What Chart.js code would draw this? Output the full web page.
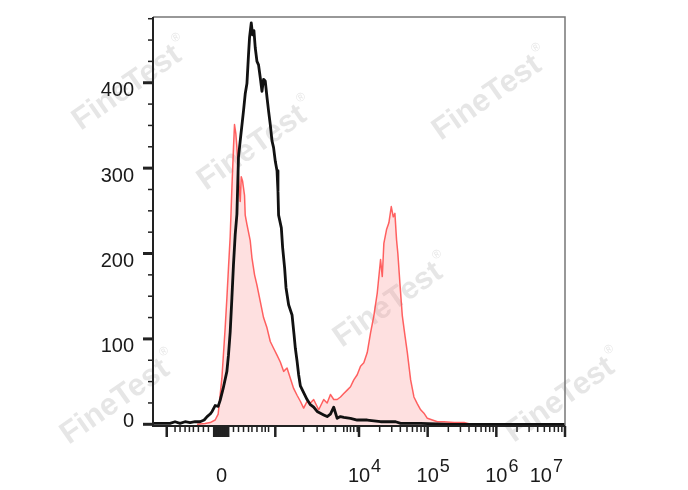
<!DOCTYPE html>
<html lang="en">
<head>
    <meta charset="UTF-8">
    <title>FineTest histogram</title>
    <script src="https://cdn.jsdelivr.net/npm/chart.js"></script>
    <style>
        body { margin: 0; background: #fff; }
        canvas { display: block; }
    </style>
</head>
<body>
    <canvas id="hist" width="688" height="490"></canvas>

    <script>
        // x values are in axis units: 2 = "0", 4 = 10^4, 5 = 10^5 ...
        const blackX = [1.000,1.102,1.248,1.321,1.394,1.467,1.540,1.613,1.686,1.745,1.788,1.832,1.861,1.905,1.949,1.978,2.022,2.076,2.099,2.124,2.149,2.172,2.197,2.222,2.245,2.270,2.318,2.343,2.368,2.391,2.406,2.431,2.450,2.470,2.489,2.514,2.537,2.562,2.587,2.610,2.635,2.660,2.683,2.708,2.733,2.756,2.781,2.806,2.820,2.829,2.869,2.888,2.917,2.937,2.975,3.025,3.054,3.073,3.098,3.121,3.146,3.194,3.244,3.292,3.340,3.390,3.438,3.486,3.536,3.584,3.632,3.682,3.730,3.778,3.876,3.974,4.120,4.314,4.533,4.606,4.898,5.336,7.000];
        const blackY = [1,1,1,3,1,3,2,3,3,5,9,12,15,22,21,28,42,62,81,108,148,187,222,246,313,332,367,387,399,433,453,470,456,461,441,425,421,406,390,404,402,383,367,351,332,324,308,297,273,245,230,207,183,160,140,128,105,89,74,58,45,37,29,23,20,15,13,11,9,12,20,7,9,8,7,5,5,3,3,1,1,0,0];

        const redX = [1.642,1.759,1.832,1.905,1.949,2.003,2.051,2.076,2.099,2.124,2.149,2.172,2.187,2.207,2.222,2.245,2.270,2.285,2.304,2.333,2.343,2.368,2.416,2.441,2.479,2.514,2.562,2.610,2.660,2.708,2.756,2.806,2.854,2.902,2.952,3.000,3.048,3.098,3.146,3.194,3.244,3.292,3.340,3.413,3.486,3.536,3.584,3.632,3.682,3.730,3.778,3.828,3.876,3.924,3.974,4.022,4.070,4.120,4.168,4.216,4.266,4.314,4.339,4.362,4.401,4.435,4.470,4.499,4.523,4.547,4.566,4.596,4.631,4.664,4.704,4.752,4.800,4.850,4.898,4.946,4.996,5.069,5.142,5.238,5.384,5.530,5.628,7.000];
        const redY = [0,1,2,5,12,54,113,148,183,220,277,324,351,340,324,292,261,290,285,268,245,234,215,195,175,163,144,125,113,97,89,81,73,62,66,54,42,34,27,19,27,25,29,17,29,25,35,29,29,32,36,40,44,52,58,68,72,84,107,127,154,193,173,212,228,236,255,243,247,216,200,165,127,107,84,52,32,24,17,13,7,5,3,3,2,2,0,0];

        // axis labels
        const yLabels = [0, 100, 200, 300, 400];
        const xLabelVals = [2, 4, 5, 6, 7];
        const xLabelBase = ['0', '10', '10', '10', '10'];
        const xLabelExp = ['', '4', '5', '6', '7'];

        // tick marks on the bottom axis
        const xLongTicks = [1.2, 1.891, 1.92, 1.949, 1.978, 2.007, 2.036, 2.066, 2.095, 2.781, 4, 5, 6, 7];
        const xShortTicks = [1.321,1.394,1.467,1.530,1.588,1.661,1.734,1.807,2.172,2.245,2.318,2.391,2.441,2.514,2.587,2.635,2.683,3.194,3.390,3.486,3.657,3.778,3.828,3.876,3.924,3.974];
        for (const d of [4, 5, 6]) {
            for (let k = 2; k <= 9; k++) xShortTicks.push(d + Math.log10(k));
        }

        const toPoints = (xs, ys) => xs.map((v, i) => ({ x: v, y: ys[i] }));

        const FONT = '"Liberation Sans", Arial, sans-serif';

        // watermark, frame, ticks and labels
        const decor = {
            id: 'decor',
            beforeDatasetsDraw(chart) {
                const ctx = chart.ctx;
                const marks = [[127, 88], [252, 148], [487, 98], [388, 305], [115, 402], [560, 400]];
                ctx.save();
                ctx.fillStyle = 'rgba(150,150,150,0.24)';
                for (const [cx, cy] of marks) {
                    ctx.save();
                    ctx.translate(cx, cy);
                    ctx.rotate(-35 * Math.PI / 180);
                    ctx.font = 'bold 31px ' + FONT;
                    ctx.textAlign = 'center';
                    ctx.textBaseline = 'middle';
                    ctx.fillText('FineTest', 0, 0);
                    const w = ctx.measureText('FineTest').width;
                    ctx.font = '12px ' + FONT;
                    ctx.textAlign = 'left';
                    ctx.fillText('®', w / 2 + 2, -13);
                    ctx.restore();
                }
                ctx.restore();
            },
            afterDatasetsDraw(chart) {
                const { ctx, chartArea: a, scales: { x, y } } = chart;
                ctx.save();

                // frame
                ctx.strokeStyle = '#777';
                ctx.lineWidth = 1.5;
                ctx.beginPath();
                ctx.moveTo(a.left, a.top);
                ctx.lineTo(a.right, a.top);
                ctx.lineTo(a.right, a.bottom);
                ctx.stroke();
                ctx.strokeStyle = '#222';
                ctx.lineWidth = 2;
                ctx.beginPath();
                ctx.moveTo(a.left, a.top);
                ctx.lineTo(a.left, a.bottom);
                ctx.lineTo(a.right, a.bottom);
                ctx.stroke();

                // y ticks
                for (let v = 0; v <= 475; v += 25) {
                    const py = y.getPixelForValue(v);
                    const major = v % 100 === 0;
                    ctx.lineWidth = major ? 3 : 1.5;
                    ctx.beginPath();
                    ctx.moveTo(a.left - (major ? 10 : 5), py);
                    ctx.lineTo(a.left, py);
                    ctx.stroke();
                }

                // x ticks
                const drawX = (vals, len, w) => {
                    ctx.lineWidth = w;
                    for (const v of vals) {
                        const px = x.getPixelForValue(v);
                        ctx.beginPath();
                        ctx.moveTo(px, a.bottom);
                        ctx.lineTo(px, a.bottom + len);
                        ctx.stroke();
                    }
                };
                drawX(xShortTicks, 6, 1.5);
                drawX(xLongTicks, 11, 2.5);

                // y labels
                ctx.fillStyle = '#1a1a1a';
                ctx.font = '20px ' + FONT;
                ctx.textAlign = 'right';
                ctx.textBaseline = 'alphabetic';
                for (const v of yLabels) {
                    const py = y.getPixelForValue(v);
                    ctx.fillText(String(v), a.left - 19, Math.min(py + 13.5, a.bottom + 1));
                }

                // x labels with raised exponent
                xLabelVals.forEach((v, i) => {
                    ctx.font = '20px ' + FONT;
                    const bw = ctx.measureText(xLabelBase[i]).width;
                    ctx.font = '18px ' + FONT;
                    const ew = xLabelExp[i] ? ctx.measureText(xLabelExp[i]).width + 1 : 0;
                    let cx = x.getPixelForValue(v);
                    if (cx + bw / 2 + ew > a.right - 2) cx = a.right - 2 - ew - bw / 2;
                    ctx.textAlign = 'center';
                    ctx.font = '20px ' + FONT;
                    ctx.fillText(xLabelBase[i], cx, 482);
                    if (xLabelExp[i]) {
                        ctx.textAlign = 'left';
                        ctx.font = '18px ' + FONT;
                        ctx.fillText(xLabelExp[i], cx + bw / 2 + 1, 472);
                    }
                });

                ctx.restore();
            }
        };

        new Chart(document.getElementById('hist'), {
            type: 'line',
            data: {
                datasets: [
                    {
                        label: 'black',
                        data: toPoints(blackX, blackY),
                        borderColor: '#111',
                        borderWidth: 2.8,
                        fill: false,
                        order: 0
                    },
                    {
                        label: 'red',
                        data: toPoints(redX, redY),
                        borderColor: 'rgba(255,60,60,0.8)',
                        borderWidth: 1.5,
                        backgroundColor: 'rgba(250,130,130,0.25)',
                        fill: 'start',
                        order: 1
                    }
                ]
            },
            options: {
                responsive: false,
                animation: false,
                layout: { padding: { left: 0, right: 123, top: 17, bottom: 0 } },
                elements: {
                    point: { radius: 0 },
                    line: { tension: 0, borderJoinStyle: 'round' }
                },
                scales: {
                    x: {
                        type: 'linear', min: 1, max: 7,
                        grid: { display: false, drawTicks: false },
                        border: { display: false },
                        ticks: { display: false },
                        afterFit(s) { s.height = 64; }
                    },
                    y: {
                        min: -2, max: 477,
                        grid: { display: false, drawTicks: false },
                        border: { display: false },
                        ticks: { display: false },
                        afterFit(s) { s.width = 153; }
                    }
                },
                plugins: { legend: { display: false }, tooltip: { enabled: false } }
            },
            plugins: [decor]
        });
    </script>
</body>
</html>
